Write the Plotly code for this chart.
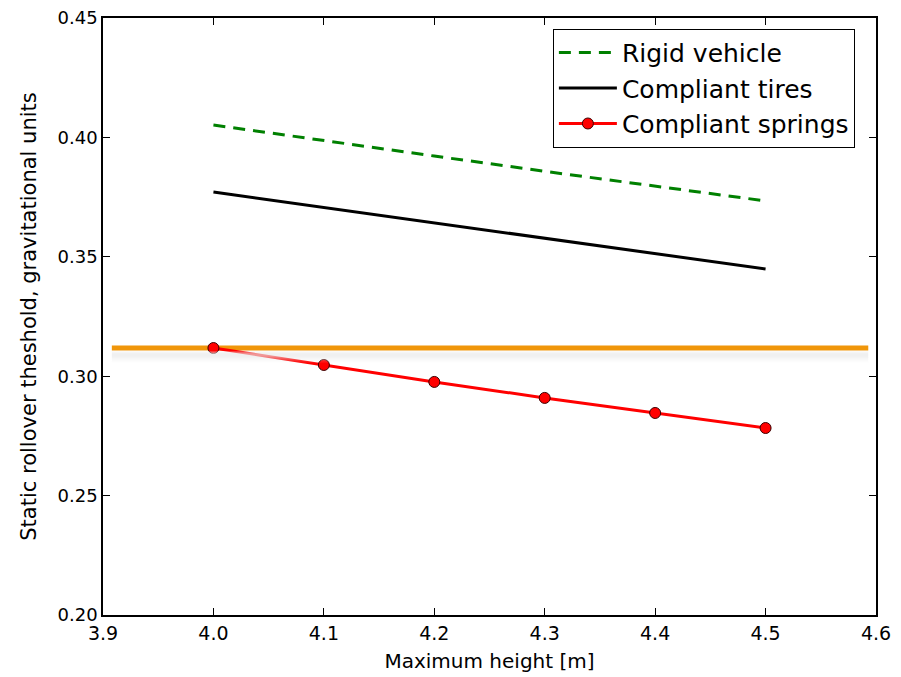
import plotly.graph_objects as go

heights = [4.0, 4.1, 4.2, 4.3, 4.4, 4.5]
rigid_vehicle = [0.4052, 0.3986, 0.3922, 0.3858, 0.3796, 0.3734]
compliant_tires = [0.3771, 0.3706, 0.3641, 0.3578, 0.3513, 0.3449]
compliant_springs = [0.3118, 0.3047, 0.2976, 0.2909, 0.2846, 0.2783]

threshold_value = 0.3118
threshold_span = [3.908, 4.593]

x_ticks = [3.9, 4.0, 4.1, 4.2, 4.3, 4.4, 4.5, 4.6]
y_ticks = [0.20, 0.25, 0.30, 0.35, 0.40, 0.45]

fig = go.Figure()

fig.add_trace(go.Scatter(
    x=threshold_span, y=[threshold_value, threshold_value], mode="lines",
    line=dict(color="rgb(240,150,10)", width=5), showlegend=False, hoverinfo="skip"))

fig.add_trace(go.Scatter(
    x=heights, y=rigid_vehicle, mode="lines", name="Rigid vehicle",
    line=dict(color="rgb(0,128,0)", width=3, dash="12px,8px")))
fig.add_trace(go.Scatter(
    x=heights, y=compliant_tires, mode="lines", name="Compliant tires",
    line=dict(color="black", width=3)))
fig.add_trace(go.Scatter(
    x=heights, y=compliant_springs, mode="lines+markers", name="Compliant springs",
    line=dict(color="rgb(255,0,0)", width=3),
    marker=dict(color="rgb(255,0,0)", size=11, line=dict(color="rgb(60,0,0)", width=1))))

# soft shadow beneath the threshold line
px = 0.05 / 119.4
profile = [0.25, 0.45, 0.6, 0.65, 0.65, 0.6, 0.5, 0.4, 0.3, 0.2, 0.12, 0.06]
for i, a in enumerate(profile):
    y_top = threshold_value - (3 + i) * px
    fig.add_shape(type="rect", xref="x", yref="y",
                  x0=threshold_span[0], x1=threshold_span[1],
                  y0=y_top - px, y1=y_top,
                  fillcolor=f"rgba(232,232,232,{a})", line=dict(width=0), layer="above")

fig.update_layout(
    width=893, height=669,
    margin=dict(l=95, r=25, t=10, b=62),
    paper_bgcolor="white", plot_bgcolor="white",
    font=dict(family="DejaVu Sans", color="black"),
    legend=dict(x=0.582, y=0.982, xanchor="left", yanchor="top",
                bgcolor="white", bordercolor="black", borderwidth=1,
                font=dict(size=25, family="DejaVu Sans", color="black"),
                itemwidth=58),
)
fig.update_xaxes(
    range=[3.9, 4.6], tickvals=x_ticks, tickformat=".1f",
    ticks="inside", ticklen=7, tickcolor="black", showline=True, linecolor="black",
    linewidth=1.5, mirror="ticks", showgrid=False, zeroline=False,
    tickfont=dict(size=19), automargin=False, ticklabeloverflow="allow",
    title=dict(text="Maximum height [m]", font=dict(size=20), standoff=11))
fig.update_yaxes(
    range=[0.19999, 0.45001], tickvals=y_ticks, tickformat=".2f",
    ticks="inside", ticklen=7, tickcolor="black", showline=True, linecolor="black",
    linewidth=1.5, mirror="ticks", showgrid=False, zeroline=False,
    tickfont=dict(size=18), automargin=False, ticklabeloverflow="allow",
    title=dict(text="Static rollover theshold, gravitational units",
               font=dict(size=21), standoff=15))

fig.write_html("out.html")
